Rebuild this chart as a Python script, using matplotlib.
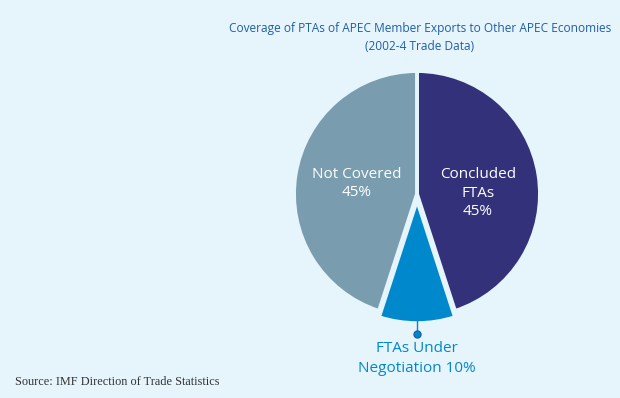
import matplotlib
matplotlib.use("Agg")
import matplotlib.pyplot as plt

categories = ["Concluded FTAs", "FTAs Under Negotiation", "Not Covered"]
values = [45, 10, 45]
colors = ["#33317A", "#0088CC", "#7A9CAF"]
title = "Coverage of PTAs of APEC Member Exports to Other APEC Economies\n(2002-4 Trade Data)"
source = "Source: IMF Direction of Trade Statistics"

W, H = 620, 398
bg = "#E6F4FC"
fig = plt.figure(figsize=(W / 100, H / 100), dpi=100, facecolor=bg)

cx, cy, r = 417, 194, 123
ax = fig.add_axes([(cx - r) / W, (H - cy - r) / H, 2 * r / W, 2 * r / H])
ax.set_facecolor(bg)
wedges, _ = ax.pie(values, colors=colors, startangle=90, counterclock=False,
                   explode=[0, 0.05, 0], radius=1,
                   wedgeprops=dict(edgecolor=bg, linewidth=2.8))
ax.set_xlim(-1, 1)
ax.set_ylim(-1, 1)
ax.set_aspect("auto")
ax.axis("off")

fs = "Open Sans"
fig.text(420 / W, 1 - 37.5 / H, title, ha="center", va="center", color="#1F5FA8",
         fontsize=8.6, family=fs, linespacing=1.45)

fig.text(357 / W, 1 - 183.5 / H, f"Not Covered\n{values[2]}%", ha="center", va="center",
         color="white", fontsize=11, family=fs, linespacing=1.32)
fig.text(478 / W, 1 - 193 / H, f"Concluded\nFTAs\n{values[0]}%", ha="center", va="center",
         color="white", fontsize=11, family=fs, linespacing=1.32)

# leader line from negotiation wedge
fig.add_artist(plt.Line2D([417 / W, 417 / W], [1 - 318 / H, 1 - 334 / H],
                          color="#0088CC", lw=1, transform=fig.transFigure))
fig.add_artist(plt.Line2D([417 / W], [1 - 334 / H], marker="o", markersize=5,
                          color="#0088CC", markeredgecolor="#1F5FA8",
                          transform=fig.transFigure))
fig.text(417 / W, 1 - 358.5 / H, f"FTAs Under\nNegotiation {values[1]}%", ha="center",
         va="center", color="#0088CC", fontsize=11, family=fs, linespacing=1.38)

fig.text(15 / W, 1 - 382 / H, source, ha="left", va="center", color="#333333",
         fontsize=8.8, family="Liberation Serif")

fig.savefig("out.png", dpi=100, facecolor=bg)
